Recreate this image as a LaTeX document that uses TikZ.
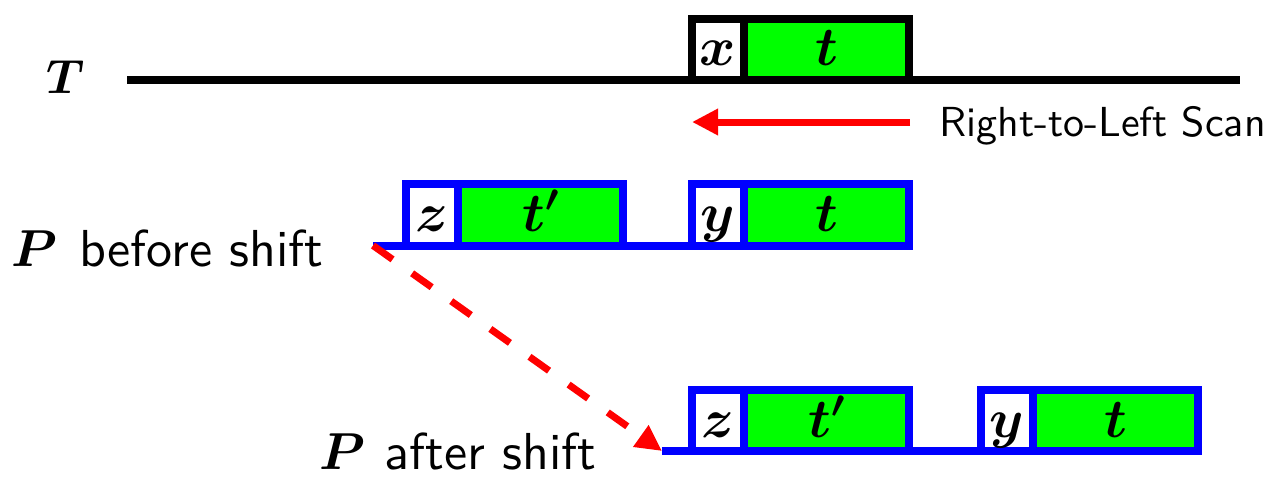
\RequirePackage{fix-cm}
\documentclass[tikz,border=0pt]{standalone}
\usepackage{amsmath,bm}
\usepackage{fontspec}
\newfontfamily\lmsf{lmsans10-regular}[Extension=.otf]
\usetikzlibrary{arrows.meta}
\definecolor{pgreen}{RGB}{0,255,0}
\definecolor{pblue}{RGB}{0,0,255}
\definecolor{pred}{RGB}{255,0,0}
\newcommand\myfs[1]{\fontsize{#1}{#1}\selectfont}
\begin{document}
\begin{tikzpicture}[x=1pt,y=-1pt,
  cellbase/.style={draw=#1, line width=8pt, minimum height=61.5pt, inner sep=0pt,
    text height=33pt, text depth=0pt, font=\myfs{55}},
  lcell/.style={cellbase=#1, fill=white, minimum width=52pt},
  tcell/.style={cellbase=#1, fill=pgreen, minimum width=165pt},
  baseln/.style={draw=#1, line width=8pt},
  redarrow/.style={draw=pred, line width=7pt, -{Triangle[length=26pt,width=25pt]}},
  lbl/.style={anchor=base west, inner sep=0pt}
]
\useasboundingbox (0,0) rectangle (1274,477);

% text line T
\coordinate (T0) at (127,80);
\coordinate (T1) at (1240,80);
\draw[baseln=black] (T0) -- (T1);
\node[lbl, font=\myfs{48}] (Tl) at (46,93) {$\bm{T}$};
\node[lcell=black] (x) at (718,49.25) {$\bm{x}$};
\node[tcell=black] (t) at (826.5,49.25) {$\bm{t}$};

% scan arrow
\coordinate (R0) at (910,122);
\coordinate (R1) at (692,122);
\draw[redarrow] (R0) -- (R1);
\node[lbl, font=\myfs{42}\lmsf] (scan) at (939,136) {Right-to-Left Scan};

% P before shift
\coordinate (B0) at (373,245.5);
\coordinate (B1) at (909,245.5);
\draw[baseln=pblue] (B0) -- (B1);
\node[lcell=pblue] (z1) at (432,214.75) {$\bm{z}$};
\node[tcell=pblue] (tp1) at (540.5,214.75) {$\bm{t'}$};
\node[lcell=pblue] (y1) at (718,214.75) {$\bm{y}$};
\node[tcell=pblue] (t1) at (826.5,214.75) {$\bm{t}$};
\node[lbl, font=\myfs{52}\lmsf] (pb) at (11,266) {$\bm{P}$\hspace{5pt} before shift};

% P after shift
\coordinate (C0) at (662,451);
\coordinate (C1) at (1197,451);
\draw[baseln=pblue] (C0) -- (C1);
\node[lcell=pblue] (z2) at (718,420.5) {$\bm{z}$};
\node[tcell=pblue] (tp2) at (826.5,420.5) {$\bm{t'}$};
\node[lcell=pblue] (y2) at (1007,420.5) {$\bm{y}$};
\node[tcell=pblue] (t2) at (1115.5,420.5) {$\bm{t}$};
\node[lbl, font=\myfs{52}\lmsf] (pa) at (319,469) {$\bm{P}$\hspace{2pt} after shift};

% shift arrow
\draw[redarrow, dash pattern=on 24pt off 24pt] (B0) -- (C0);
\end{tikzpicture}
\end{document}
